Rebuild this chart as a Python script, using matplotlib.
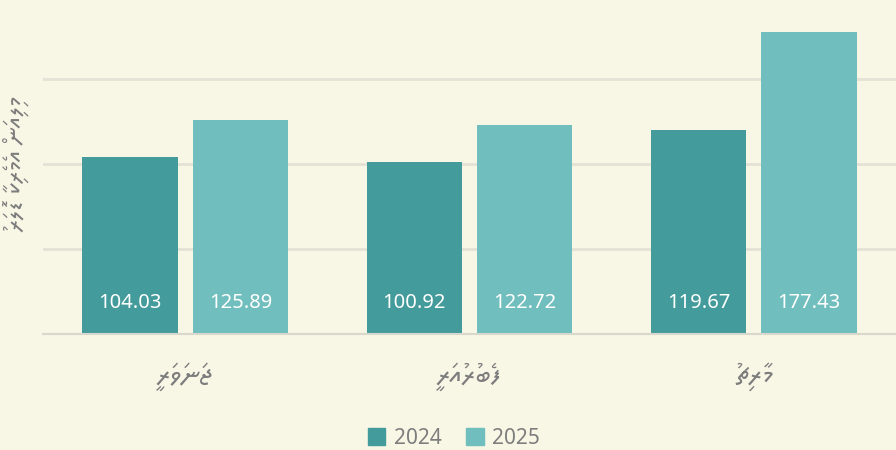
import numpy as np
import matplotlib
matplotlib.use("Agg")
import matplotlib.pyplot as plt
from matplotlib.patches import Patch

# ---- data ----
months = ["ޖަނަވަރީ", "ފެބުރުއަރީ", "މާރިޗު"]
years = ["2024", "2025"]
vals_2024 = [104.03, 100.92, 119.67]
vals_2025 = [125.89, 122.72, 177.43]
y_title = "މިލިއަން އެމެރިކާ ޑޮލަރު"

BG = "#f8f7e6"
C24 = "#449b9b"
C25 = "#70bebd"
GREY = "#7d7d7d"
THAANA = ["Noto Sans Thaana", "DejaVu Sans"]


def rtl(s):
    # matplotlib has no bidi / mark positioning: reverse clusters by hand,
    # and put the fili in front of its letter so it lands on top of it
    clusters = []
    for ch in s:
        if 0x07A6 <= ord(ch) <= 0x07B0 and clusters:
            clusters[-1][1] += ch
        else:
            clusters.append([ch, ""])
    return "".join(mark + base for base, mark in reversed(clusters))


fig = plt.figure(figsize=(8.96, 4.5), dpi=100, facecolor=BG)
ax = fig.add_axes([43 / 896, 116 / 450, 853 / 896, 334 / 450])
ax.set_facecolor(BG)

x = np.arange(len(months))
w = 0.335
off = 0.194
b1 = ax.bar(x - off, vals_2024, w, color=C24, zorder=3)
b2 = ax.bar(x + off, vals_2025, w, color=C25, zorder=3)

for bars, vals in ((b1, vals_2024), (b2, vals_2025)):
    for rect, v in zip(bars, vals):
        ax.annotate(f"{v:.2f}", xy=(rect.get_x() + rect.get_width() / 2, 0),
                    xytext=(0, 22), textcoords="offset points",
                    ha="center", va="center", color="white",
                    fontsize=14.5, family="Noto Sans", zorder=4)

ax.set_xlim(-0.5, len(months) - 0.5)
ax.set_ylim(0, 196.2)
ax.set_yticks([50, 100, 150])
ax.yaxis.grid(True, color="#e3e2d6", linewidth=2, zorder=0)
ax.tick_params(axis="y", length=0, labelleft=False)

ax.set_xticks(x)
ax.set_xticklabels([rtl(m) for m in months], family=THAANA,
                   fontsize=20, color=GREY)
ax.tick_params(axis="x", length=0, pad=20)

for s in ["top", "right", "left"]:
    ax.spines[s].set_visible(False)
ax.spines["bottom"].set_color("#d9d8cc")
ax.spines["bottom"].set_linewidth(1.5)
ax.spines["bottom"].set_zorder(5)

fig.text(16 / 896, 1 - 164 / 450, rtl(y_title), rotation=90,
         ha="center", va="center", family=THAANA, fontsize=18, color=GREY)

handles = [Patch(color=C24), Patch(color=C25)]
fig.legend(handles, years, loc="center", bbox_to_anchor=(454 / 896, 1 - 438 / 450),
           ncol=2, frameon=False, handlelength=0.85,
           handleheight=0.85, handletextpad=0.4, columnspacing=1.2,
           labelcolor=GREY, prop={"family": "Noto Sans", "size": 15})

fig.savefig("out.png", dpi=100, facecolor=BG)
